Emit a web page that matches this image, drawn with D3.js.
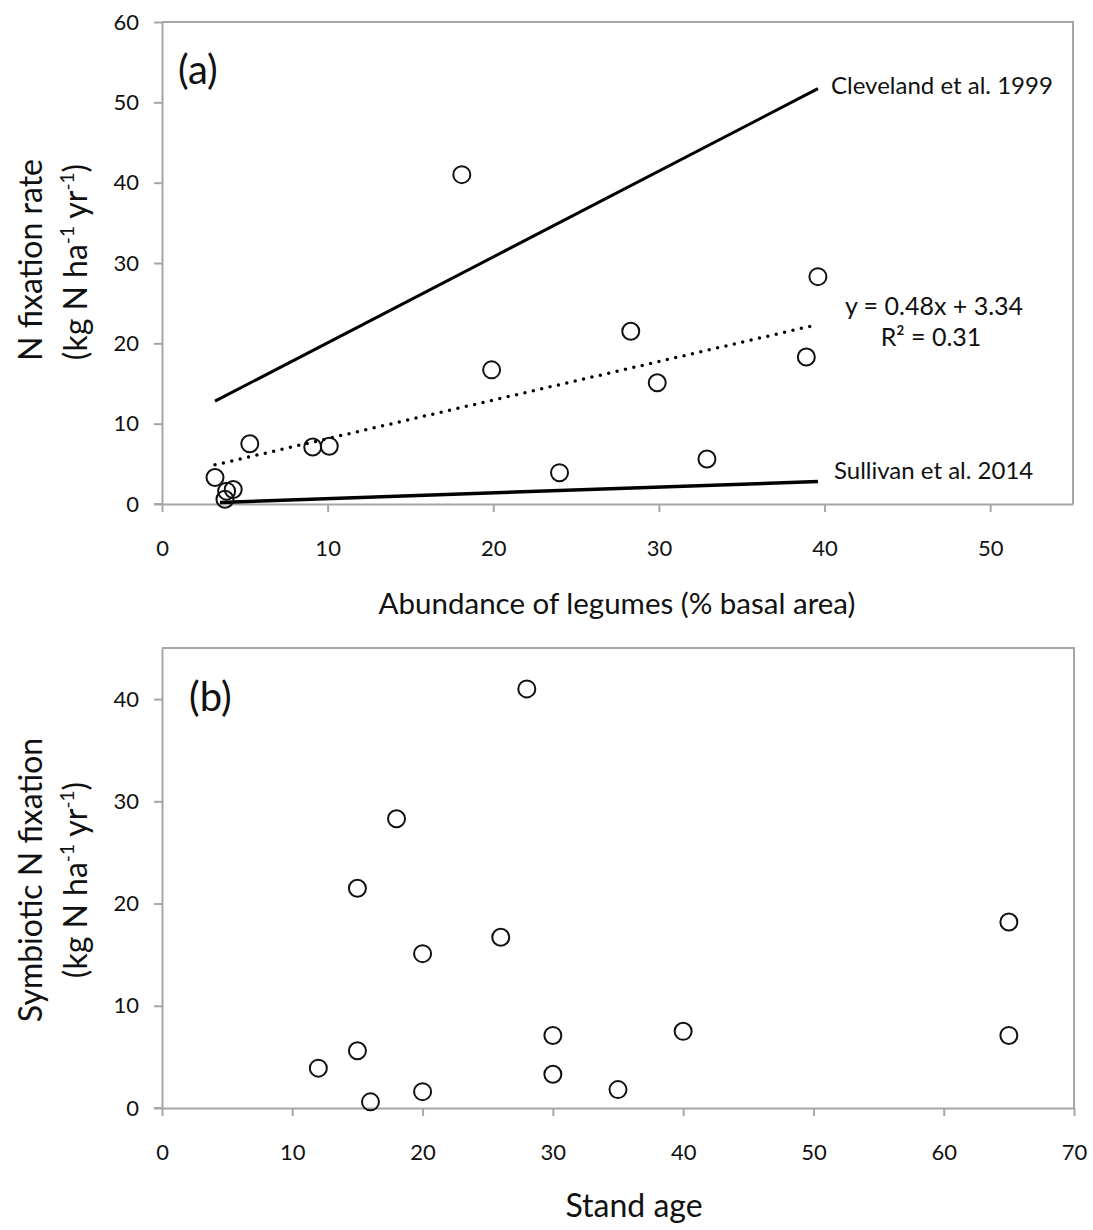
<!DOCTYPE html>
<html>
<head>
<meta charset="utf-8">
<script src="https://cdn.jsdelivr.net/npm/d3@7"></script>
<style>
  body { margin: 0; background: #fff; }
  svg { display: block; }
  text { font-family: Lato, "Open Sans", sans-serif; fill: #111; }
</style>
</head>
<body>
<svg id="chart" width="1093" height="1230"></svg>
<script>
// ---------- DATA ----------
// Panel (a): abundance of legumes (% basal area) vs N fixation rate
const abundanceX = [18.1, 39.6, 28.3, 19.9, 29.9, 38.9, 5.3, 9.1, 10.1, 24.0, 32.9, 3.2, 3.9, 4.3, 3.8];
const fixationA  = [41.0, 28.3, 21.5, 16.7, 15.1, 18.3, 7.5, 7.1, 7.2, 3.9, 5.6, 3.3, 1.6, 1.8, 0.6];
// Reference lines (endpoints)
const clevelandX = [3.2, 39.6];
const clevelandY = [12.8, 51.7];
const sullivanX  = [3.5, 39.6];
const sullivanY  = [0.2, 2.8];
// Linear fit y = 0.48x + 3.34 drawn over data range
const fitX = [3.2, 39.6];
const fitSlope = 0.48, fitIntercept = 3.34;

// Panel (b): stand age vs symbiotic N fixation
const standAge  = [28, 18, 15, 26, 20, 65, 65, 12, 15, 16, 20, 30, 30, 35, 40];
const fixationB = [41.0, 28.3, 21.5, 16.7, 15.1, 18.2, 7.1, 3.9, 5.6, 0.6, 1.6, 7.1, 3.3, 1.8, 7.5];

const ticksAx = [0, 10, 20, 30, 40, 50];
const ticksAy = [0, 10, 20, 30, 40, 50, 60];
const ticksBx = [0, 10, 20, 30, 40, 50, 60, 70];
const ticksBy = [0, 10, 20, 30, 40];

// ---------- DRAW ----------
const svg = d3.select("#chart");
const axisColor = "#a6a6a6";

function panel(cfg) {
  const g = svg.append("g");
  const x = d3.scaleLinear().domain(cfg.xDomain).range([cfg.left, cfg.right]);
  const y = d3.scaleLinear().domain(cfg.yDomain).range([cfg.bottom, cfg.top]);

  g.append("path")
    .attr("d", `M${cfg.left},${cfg.top}H${cfg.right}V${cfg.bottom}`)
    .attr("fill", "none").attr("stroke", axisColor).attr("stroke-width", 2);

  const xa = g.append("g").attr("transform", `translate(0,${cfg.bottom})`)
    .call(d3.axisBottom(x).tickValues(cfg.xTicks).tickSize(8).tickSizeOuter(0).tickPadding(28).tickFormat(d3.format("d")));
  const ya = g.append("g").attr("transform", `translate(${cfg.left},0)`)
    .call(d3.axisLeft(y).tickValues(cfg.yTicks).tickSize(8).tickSizeOuter(0).tickPadding(15).tickFormat(d3.format("d")));
  [xa, ya].forEach(a => {
    a.select(".domain").attr("stroke", axisColor).attr("stroke-width", 2);
    a.selectAll(".tick line").attr("stroke", axisColor).attr("stroke-width", 2);
    a.selectAll(".tick text").attr("font-size", 22).attr("fill", "#111")
      .style("font-family", "Lato, 'Open Sans', sans-serif");
  });
  g.append("line").attr("x1", cfg.left - 8).attr("x2", cfg.left)
    .attr("y1", cfg.bottom).attr("y2", cfg.bottom)
    .attr("stroke", axisColor).attr("stroke-width", 2);
  return { g, x, y };
}

function unitTitle(g, tx, ty, size) {
  const t = g.append("text").attr("transform", `translate(${tx},${ty}) rotate(-90)`)
    .attr("text-anchor", "middle").attr("font-size", size);
  const sup = Math.round(size * 0.6), shift = Math.round(size * 0.4);
  t.append("tspan").text("(kg N ha");
  t.append("tspan").attr("font-size", sup).attr("dy", -shift).text("-1");
  t.append("tspan").attr("dy", shift).text(" yr");
  t.append("tspan").attr("font-size", sup).attr("dy", -shift).text("-1");
  t.append("tspan").attr("dy", shift).text(")");
}

// Panel (a)
const A = panel({ left: 162, right: 1073, top: 22, bottom: 504,
  xDomain: [0, 55], yDomain: [0, 60], xTicks: ticksAx, yTicks: ticksAy });

A.g.append("line")
  .attr("x1", A.x(clevelandX[0])).attr("y1", A.y(clevelandY[0]))
  .attr("x2", A.x(clevelandX[1])).attr("y2", A.y(clevelandY[1]))
  .attr("stroke", "#000").attr("stroke-width", 3);
A.g.append("line")
  .attr("x1", A.x(sullivanX[0])).attr("y1", A.y(sullivanY[0]))
  .attr("x2", A.x(sullivanX[1])).attr("y2", A.y(sullivanY[1]))
  .attr("stroke", "#000").attr("stroke-width", 3.5);
A.g.append("line")
  .attr("x1", A.x(fitX[0])).attr("y1", A.y(fitSlope * fitX[0] + fitIntercept))
  .attr("x2", A.x(fitX[1])).attr("y2", A.y(fitSlope * fitX[1] + fitIntercept))
  .attr("stroke", "#000").attr("stroke-width", 3.5)
  .attr("stroke-dasharray", "0,8.6").attr("stroke-linecap", "round");

A.g.selectAll("circle.pt").data(abundanceX).join("circle")
  .attr("class", "pt")
  .attr("cx", d => A.x(d)).attr("cy", (d, i) => A.y(fixationA[i]))
  .attr("r", 8.5).attr("fill", "none").attr("stroke", "#111").attr("stroke-width", 2);

A.g.append("text").attr("x", 178).attr("y", 84).attr("font-size", 40).text("(a)");
A.g.append("text").attr("x", 831).attr("y", 94).attr("font-size", 24).text("Cleveland et al. 1999");
A.g.append("text").attr("x", 834).attr("y", 479).attr("font-size", 24).text("Sullivan et al. 2014");
A.g.append("text").attr("x", 934).attr("y", 315).attr("font-size", 25).attr("text-anchor", "middle").text("y = 0.48x + 3.34");
A.g.append("text").attr("x", 931).attr("y", 346).attr("font-size", 25).attr("text-anchor", "middle").text("R² = 0.31");

A.g.append("text").attr("transform", "translate(42,260) rotate(-90)")
  .attr("text-anchor", "middle").attr("font-size", 32).text("N fixation rate");
unitTitle(A.g, 87, 262, 32);

A.g.append("text").attr("x", 617).attr("y", 614).attr("text-anchor", "middle")
  .attr("font-size", 29.5).text("Abundance of legumes (% basal area)");

// Panel (b)
const B = panel({ left: 162, right: 1074, top: 648, bottom: 1108,
  xDomain: [0, 70], yDomain: [0, 45], xTicks: ticksBx, yTicks: ticksBy });

B.g.selectAll("circle.pt").data(standAge).join("circle")
  .attr("class", "pt")
  .attr("cx", d => B.x(d)).attr("cy", (d, i) => B.y(fixationB[i]))
  .attr("r", 8.5).attr("fill", "none").attr("stroke", "#111").attr("stroke-width", 2);

B.g.append("text").attr("x", 189).attr("y", 711).attr("font-size", 40).text("(b)");

B.g.append("text").attr("transform", "translate(42,880) rotate(-90)")
  .attr("text-anchor", "middle").attr("font-size", 32).text("Symbiotic N fixation");
unitTitle(B.g, 87, 880, 32);

B.g.append("text").attr("x", 634).attr("y", 1217).attr("text-anchor", "middle")
  .attr("font-size", 32).text("Stand age");
</script>
</body>
</html>
